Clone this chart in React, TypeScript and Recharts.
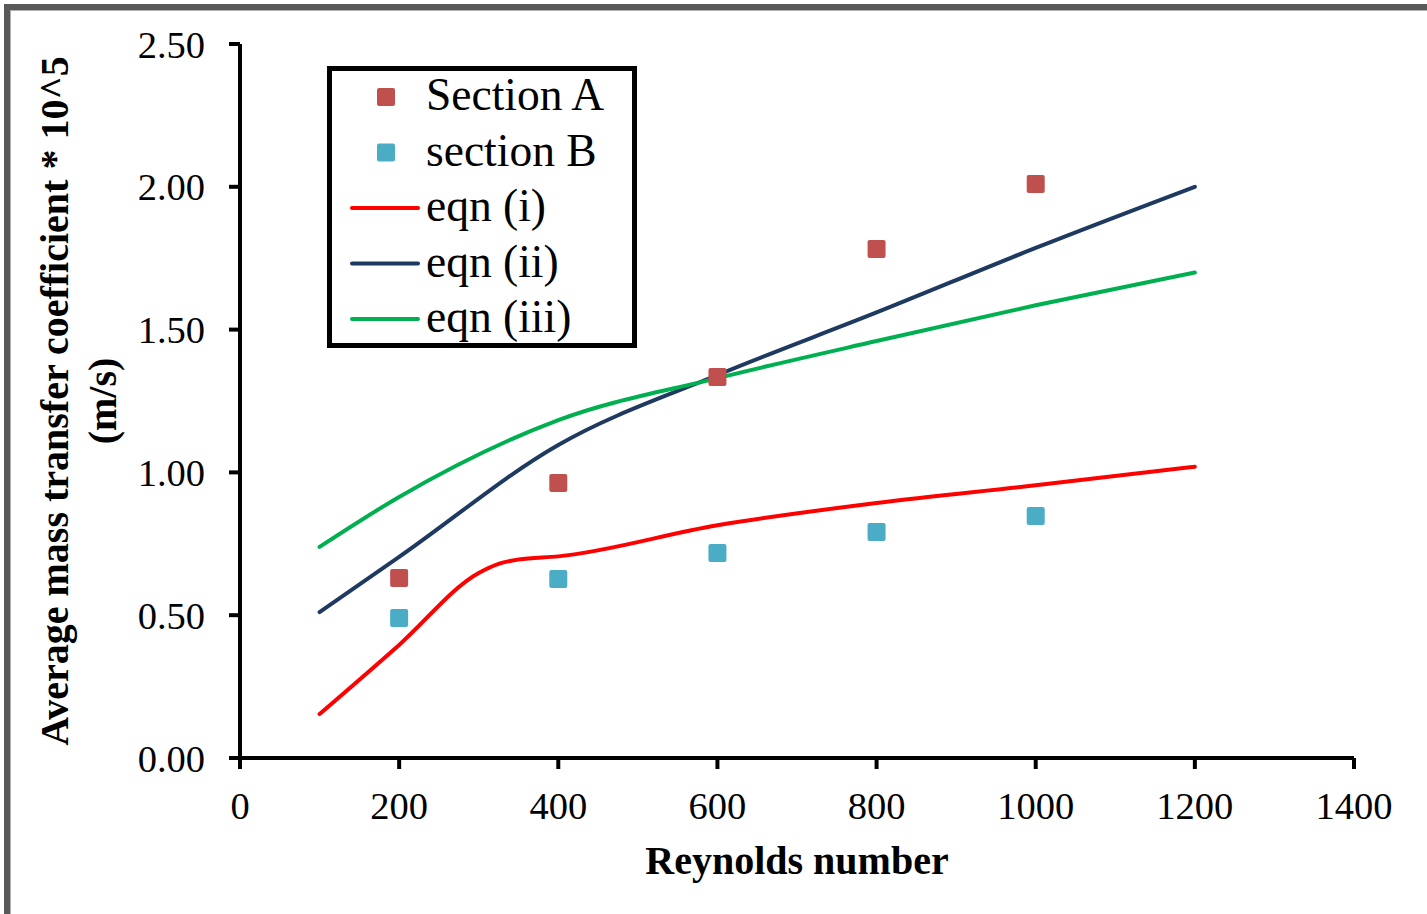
import React from 'react';
import { ComposedChart, Line, Scatter, XAxis, YAxis, Legend } from 'recharts';

// measured points (Reynolds number vs coefficient * 10^5)
const reynolds = [200, 400, 600, 800, 1000];
const sectionA = [0.63, 0.963, 1.334, 1.782, 2.01];
const sectionB = [0.49, 0.627, 0.718, 0.791, 0.847];

// model curves
const eqnX1 = [100, 200, 300, 325, 350, 400, 600, 800, 1000, 1200];
const eqnI = [0.154, 0.396, 0.648, 0.68, 0.695, 0.706, 0.815, 0.893, 0.955, 1.02];
const eqnX = [100, 200, 400, 600, 800, 1000, 1200];
const eqnII = [0.511, 0.704, 1.096, 1.341, 1.56, 1.786, 2.0];
const eqnIII = [0.739, 0.914, 1.183, 1.33, 1.46, 1.585, 1.7];

const xTicks = [0, 200, 400, 600, 800, 1000, 1200, 1400];
const yTicks = [0, 0.5, 1, 1.5, 2, 2.5];

const toPoints = (xs: number[], ys: number[]) => xs.map((x, i) => ({ x, y: ys[i] }));

const dataA = toPoints(reynolds, sectionA);
const dataB = toPoints(reynolds, sectionB);
const dataI = toPoints(eqnX1, eqnI);
const dataII = toPoints(eqnX, eqnII);
const dataIII = toPoints(eqnX, eqnIII);

const FONT = '"Liberation Serif", "Times New Roman", serif';
const COLOR_A = '#C0504D';
const COLOR_B = '#4BACC6';
const RED = '#FF0000';
const NAVY = '#1F3A60';
const GREEN = '#00B050';

const squareShape = (fill: string) => (props: any) => (
  <rect x={props.cx - 9} y={props.cy - 9} width={18} height={18} rx={2} fill={fill} />
);

const legendItems = [
  { name: 'Section A', kind: 'square', color: COLOR_A },
  { name: 'section B', kind: 'square', color: COLOR_B },
  { name: 'eqn (i)', kind: 'line', color: RED },
  { name: 'eqn (ii)', kind: 'line', color: NAVY },
  { name: 'eqn (iii)', kind: 'line', color: GREEN },
];

const renderLegend = () => (
  <svg width={311} height={282} style={{ display: 'block' }}>
    <rect x={2.5} y={2.5} width={305} height={277} fill="#fff" stroke="#000" strokeWidth={5} />
    {legendItems.map((item, i) => {
      const cy = 31 + i * 55.5;
      return (
        <g key={item.name}>
          {item.kind === 'square' ? (
            <rect x={50} y={cy - 9} width={18} height={18} rx={2} fill={item.color} />
          ) : (
            <line x1={25} x2={91} y1={cy} y2={cy} stroke={item.color} strokeWidth={4} strokeLinecap="round" />
          )}
          <text x={99} y={cy + 13} fontFamily={FONT} fontSize={45.5} fill="#000">
            {item.name}
          </text>
        </g>
      );
    })}
  </svg>
);

const xTitle = (props: any) => {
  const { viewBox } = props;
  return (
    <text x={viewBox.x + viewBox.width / 2} y={viewBox.y + 116} textAnchor="middle"
      fontFamily={FONT} fontWeight="bold" fontSize={40} fill="#000">
      Reynolds number
    </text>
  );
};

const yTitle = (props: any) => {
  const { viewBox } = props;
  const cy = viewBox.y + viewBox.height / 2;
  const x1 = viewBox.x - 72;
  const x2 = viewBox.x - 24;
  return (
    <g>
      <text x={x1} y={cy} transform={`rotate(-90, ${x1}, ${cy})`} textAnchor="middle"
        fontFamily={FONT} fontWeight="bold" fontSize={40} fill="#000">
        Average mass transfer coefficient * 10^5
      </text>
      <text x={x2} y={cy} transform={`rotate(-90, ${x2}, ${cy})`} textAnchor="middle"
        fontFamily={FONT} fontWeight="bold" fontSize={40} fill="#000">
        (m/s)
      </text>
    </g>
  );
};

const App: React.FC = () => {
  const tickStyle = { fontFamily: FONT, fontSize: 38.5, fill: '#000' };
  return (
    <div style={{ position: 'absolute', left: 0, top: 0, width: 1427, height: 914, background: '#fff', overflow: 'hidden' }}>
      <div style={{ position: 'absolute', left: 4, top: 4, width: 1440, height: 930, borderTop: '6px solid #595959', borderLeft: '6px solid #595959', boxShadow: 'inset 1px 1px 0 #b0b0b0' }} />
      <div style={{ position: 'absolute', left: 0, top: 0 }}>
        <ComposedChart width={1427} height={914} margin={{ top: 44, right: 73, bottom: 96, left: 140 }}>
          <XAxis
            type="number"
            dataKey="x"
            domain={[0, 1400]}
            ticks={xTicks}
            interval={0}
            height={60}
            tick={tickStyle}
            tickSize={11}
            tickMargin={23}
            axisLine={{ stroke: '#000', strokeWidth: 4 }}
            tickLine={{ stroke: '#000', strokeWidth: 4 }}
            label={xTitle}
          />
          <YAxis
            type="number"
            dataKey="y"
            domain={[0, 2.5]}
            ticks={yTicks}
            interval={0}
            width={100}
            tick={tickStyle}
            tickSize={11}
            tickMargin={24}
            tickFormatter={(v: number) => v.toFixed(2)}
            axisLine={{ stroke: '#000', strokeWidth: 4 }}
            tickLine={{ stroke: '#000', strokeWidth: 4 }}
            label={yTitle}
          />
          <Legend
            layout="vertical"
            align="center"
            verticalAlign="middle"
            content={renderLegend}
            wrapperStyle={{ left: 327, top: 66, width: 311, height: 282 }}
          />
          <Line data={dataI} dataKey="y" name="eqn (i)" type="monotone" stroke={RED} strokeWidth={4}
            strokeLinecap="round" dot={false} activeDot={false} isAnimationActive={false} />
          <Line data={dataII} dataKey="y" name="eqn (ii)" type="monotone" stroke={NAVY} strokeWidth={4}
            strokeLinecap="round" dot={false} activeDot={false} isAnimationActive={false} />
          <Line data={dataIII} dataKey="y" name="eqn (iii)" type="monotone" stroke={GREEN} strokeWidth={4}
            strokeLinecap="round" dot={false} activeDot={false} isAnimationActive={false} />
          <Scatter data={dataA} dataKey="y" name="Section A" fill={COLOR_A}
            shape={squareShape(COLOR_A)} isAnimationActive={false} />
          <Scatter data={dataB} dataKey="y" name="section B" fill={COLOR_B}
            shape={squareShape(COLOR_B)} isAnimationActive={false} />
        </ComposedChart>
      </div>
    </div>
  );
};

export default App;
